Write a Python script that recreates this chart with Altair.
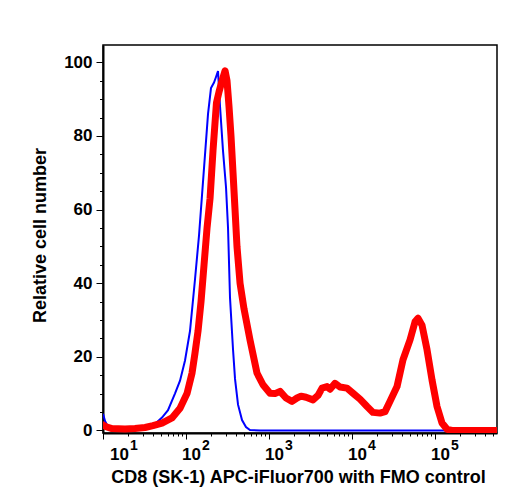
import altair as alt
import pandas as pd

# FMO control histogram (blue): fluorescence intensity vs relative cell number
fmo_intensity = [10.0, 10.6, 11.5, 12.8, 16.0, 21.1, 27.9, 36.8, 43.5, 51.4,
                 60.7, 73.6, 84.7, 97.3, 111.7, 128.3, 143.5, 156, 169.5, 184.2,
                 200, 217.4, 229.8, 243, 257, 279, 303.5, 320.8, 339, 368.5,
                 389.5, 423.4, 473, 528, 590, 780, 2000, 10000, 100000, 558000]
fmo_count = [4.5, 2.5, 1.0, 0.4, 0.3, 0.4, 0.7, 1.3, 2.0, 3.5,
             5.5, 10, 13.5, 19, 27, 41, 53, 64, 75, 86,
             93, 94.5, 96, 97.6, 88, 76, 66, 55, 36, 22,
             14, 7, 2.8, 0.9, 0.1, 0, 0, 0, 0, 0]

# CD8 stained histogram (red)
cd8_intensity = [10.0, 10.9, 12.8, 18.4, 24.3, 32.1, 40.0, 51.4, 67.8, 84.7,
                 102.8, 118, 128.3, 139.6, 151.7, 164.9, 179.2, 194.8, 211.5, 232.8,
                 250, 271.8, 295.4, 312, 329.7, 348.4, 368.5, 389.5, 411.2, 447.7,
                 500, 590, 716, 846, 1028, 1181, 1358, 1603, 1893, 2174,
                 2430, 2792, 3388, 3890, 4353, 5000, 5432, 6240, 7165, 8707,
                 10280, 12480, 15170, 17900, 21730, 24990, 28710, 34840, 41120, 50000,
                 57410, 62370, 69670, 80140, 92040, 105700, 121400, 139600, 160300, 558000]
cd8_count = [1.5, 1.0, 0.5, 0.4, 0.5, 0.8, 1.3, 2.0, 3.4, 6.0,
             10, 15.5, 21, 27, 35, 45, 55, 63, 76, 89,
             92, 95, 97.7, 95, 88, 80, 70, 60, 50, 40,
             33, 24.6, 15.6, 12.4, 10.1, 10, 10.6, 8.8, 7.9, 8.8,
             9.3, 9.0, 8.3, 9.5, 11.5, 11.9, 11.2, 12.8, 11.8, 11.5,
             10.1, 8.5, 6.5, 4.9, 4.7, 5.1, 7.9, 11.9, 19.2, 24.6,
             29.5, 30.5, 28.6, 21.9, 13.7, 6.5, 2.0, 0.3, 0, 0]

# Decade tick labels (10^n)
decade_values = [10, 100, 1000, 10000, 100000]
decade_exponents = ["1", "2", "3", "4", "5"]

X_MAX = 558000
x_ticks = [m * 10 ** e for e in range(1, 6) for m in range(1, 10) if m * 10 ** e <= X_MAX]
y_ticks = list(range(0, 101, 5))

W, H = 394, 388
FONT = "Liberation Sans"

fmo = pd.DataFrame({"intensity": fmo_intensity, "count": fmo_count})
cd8 = pd.DataFrame({"intensity": cd8_intensity, "count": cd8_count})
decades = pd.DataFrame({"intensity": decade_values, "exp": decade_exponents, "base": "10"})

x_scale = alt.Scale(type="log", domain=[10, X_MAX], nice=False)
y_scale = alt.Scale(domain=[-0.7, 104.7], nice=False, zero=False)

is_decade = "abs(log(datum.value)/LN10 - round(log(datum.value)/LN10)) < 0.001"

x_axis = alt.Axis(
    values=x_ticks, labels=False, grid=False,
    tickSize={"condition": {"test": is_decade, "value": 6}, "value": 3},
    tickColor="black", tickWidth=1, domainColor="black", domainWidth=2,
    title="CD8 (SK-1) APC-iFluor700 with FMO control",
    titleFont=FONT, titleFontSize=18, titleFontWeight="bold", titleColor="black",
    titleX=195, titleY=49, titleAlign="center", titleBaseline="alphabetic",
)
y_axis = alt.Axis(
    values=y_ticks, grid=False,
    labelExpr="datum.value % 20 === 0 ? datum.label : ''",
    labelFont=FONT, labelFontSize=17, labelFontWeight="bold", labelColor="black",
    labelPadding=4, labelOverlap=False,
    tickSize={"condition": {"test": "datum.value % 20 === 0", "value": 7}, "value": 3.5},
    tickColor="black", tickWidth=1, domainColor="black", domainWidth=2,
    title="Relative cell number",
    titleFont=FONT, titleFontSize=18, titleFontWeight="bold", titleColor="black",
    titleAngle=-90, titleX=-58, titleY=190, titleAlign="center", titleBaseline="alphabetic",
)

x_enc = alt.X("intensity:Q", scale=x_scale, axis=x_axis)
y_enc = alt.Y("count:Q", scale=y_scale, axis=y_axis)

fmo_line = alt.Chart(fmo).mark_line(
    color="#0000ff", strokeWidth=2, clip=True
).encode(x=x_enc, y=y_enc, order="intensity:Q")

cd8_line = alt.Chart(cd8).mark_line(
    color="#ff0000", strokeWidth=7, strokeJoin="round", strokeCap="round", clip=True
).encode(x=x_enc, y=y_enc, order="intensity:Q")

text_style = dict(font=FONT, fontWeight="bold", color="black", align="left", baseline="alphabetic")

first = alt.Chart(decades).transform_filter("datum.exp === '1'")
rest = alt.Chart(decades).transform_filter("datum.exp !== '1'")

base_first = first.mark_text(fontSize=17, dx=7, **text_style).encode(
    x=x_enc, y=alt.value(H + 27), text="base:N")
exp_first = first.mark_text(fontSize=14, dx=27, **text_style).encode(
    x=x_enc, y=alt.value(H + 17), text="exp:N")
base_rest = rest.mark_text(fontSize=17, dx=-4, **text_style).encode(
    x=x_enc, y=alt.value(H + 27), text="base:N")
exp_rest = rest.mark_text(fontSize=14, dx=16, **text_style).encode(
    x=x_enc, y=alt.value(H + 17), text="exp:N")

chart = alt.layer(
    fmo_line, cd8_line, base_first, exp_first, base_rest, exp_rest
).properties(
    width=W, height=H,
    autosize=alt.AutoSizeParams(type="none"),
    padding={"left": 103, "top": 45, "right": 20, "bottom": 70},
    background="white",
).configure_view(stroke="black", strokeWidth=1.5)

chart.save("out.html", embed_options={"renderer": "svg", "actions": False})
